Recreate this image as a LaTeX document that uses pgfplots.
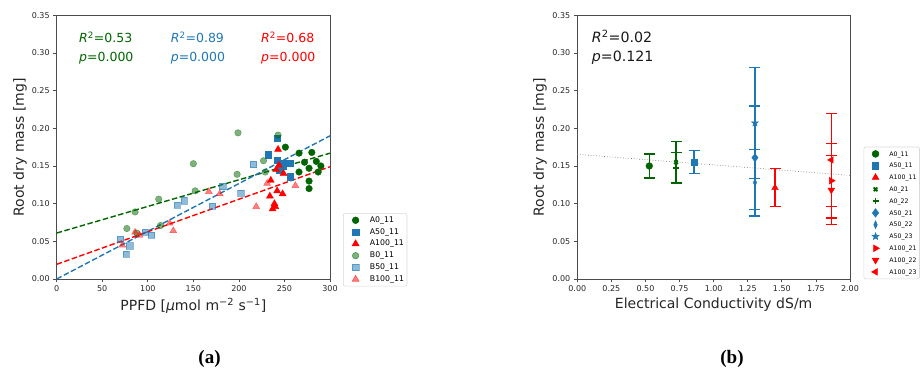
\documentclass[border=0pt]{standalone}
\usepackage{fontspec}
\setmainfont{DejaVu Sans}
\newfontfamily\capserif{Liberation Serif}
\usepackage{pgfplots}
\pgfplotsset{compat=1.18}
\usetikzlibrary{plotmarks}
\definecolor{dgreen}{HTML}{006400}
\definecolor{tblue}{HTML}{1F77B4}
\definecolor{mred}{HTML}{FF0000}

\pgfdeclareplotmark{fstar}{%
  \pgfpathmoveto{\pgfpointpolar{90}{\pgfplotmarksize}}%
  \pgfpathlineto{\pgfpointpolar{126}{0.42\pgfplotmarksize}}%
  \pgfpathlineto{\pgfpointpolar{162}{\pgfplotmarksize}}%
  \pgfpathlineto{\pgfpointpolar{198}{0.42\pgfplotmarksize}}%
  \pgfpathlineto{\pgfpointpolar{234}{\pgfplotmarksize}}%
  \pgfpathlineto{\pgfpointpolar{270}{0.42\pgfplotmarksize}}%
  \pgfpathlineto{\pgfpointpolar{306}{\pgfplotmarksize}}%
  \pgfpathlineto{\pgfpointpolar{342}{0.42\pgfplotmarksize}}%
  \pgfpathlineto{\pgfpointpolar{18}{\pgfplotmarksize}}%
  \pgfpathlineto{\pgfpointpolar{54}{0.42\pgfplotmarksize}}%
  \pgfpathclose
  \pgfusepathqfillstroke
}
\pgfdeclareplotmark{triright}{\pgftransformrotate{-90}\pgfuseplotmark{triangle*}}
\pgfdeclareplotmark{tridown}{\pgftransformrotate{180}\pgfuseplotmark{triangle*}}
\pgfdeclareplotmark{trileft}{\pgftransformrotate{90}\pgfuseplotmark{triangle*}}
\pgfdeclareplotmark{thindiamond}{\pgftransformxscale{0.6}\pgfuseplotmark{diamond*}}
\pgfdeclareplotmark{thickx}{\pgfsetlinewidth{1.8pt}\pgfuseplotmark{x}}
\pgfdeclareplotmark{thickplus}{\pgfsetlinewidth{1.9pt}\pgfuseplotmark{+}}

% error bar of one series: colour, x, x-cap left, x-cap right, lower, upper
\newcommand{\ebar}[6]{%
  \addplot[forget plot, color=#1, line width=1.2pt] coordinates {(#2,#5) (#2,#6)};
  \addplot[forget plot, color=#1, line width=1.2pt] coordinates {(#3,#5) (#4,#5)};
  \addplot[forget plot, color=#1, line width=1.2pt] coordinates {(#3,#6) (#4,#6)};
}

\pgfplotsset{
  base/.style={
    scale only axis,
    anchor=south west,
    height=263.7pt,
    ymin=0, ymax=0.35,
    ytick={0,0.05,0.10,0.15,0.20,0.25,0.30,0.35},
    yticklabel style={/pgf/number format/fixed,/pgf/number format/fixed zerofill,/pgf/number format/precision=2},
    /pgf/number format/assume math mode=true,
    tick label style={font=\fontsize{8}{9}\selectfont, text=black!85},
    tick align=outside,
    major tick length=3.5pt,
    xtick pos=bottom, ytick pos=left,
    axis line style={black!70, line width=0.8pt},
    every tick/.style={black!70, line width=0.8pt},
    label style={font=\fontsize{14}{16}\selectfont, text=black!85},
    ylabel={Root dry mass [mg]},
    clip=false,
  },
  leg/.style={
    legend style={
      draw=black!15, line width=0.6pt, rounded corners=2pt,
      inner xsep=3pt, inner ysep=1pt,
      row sep=0pt, column sep=0pt,
      nodes={inner sep=0pt, text height=5.6pt, text depth=1.4pt, minimum height=11.8pt},
    },
    legend cell align=left,
  },
}

\begin{document}
\begin{tikzpicture}[x=1pt,y=1pt]
% ---------------- panel (a)
\begin{axis}[base, leg,
  at={(56.7pt,92pt)}, width=273.3pt,
  xmin=0, xmax=300, xtick={0,50,100,150,200,250,300},
  xlabel={PPFD [{\itshape μ}mol m\textsuperscript{−2} s\textsuperscript{−1}]},
  xlabel style={at={(axis description cs:0.5,-0.120)}, anchor=base},
  ylabel style={at={(axis description cs:-0.134,0.5)}, anchor=center},
  legend style={at={(1.0476,0.250)}, anchor=north west, font=\fontsize{7.8}{9}\selectfont},
  legend image code/.code={\path (-9pt,0pt) (14pt,0pt); \draw[#1] plot coordinates {(0pt,0pt)};},
]
\addplot[only marks, mark=*, mark size=3.3pt, dgreen] coordinates {
(251,0.175)(266,0.167)(280,0.168)(272,0.155)(285,0.156)(290,0.150)(277,0.147)(287,0.142)(266,0.142)(277,0.130)(277,0.120)(256,0.153)};
\addlegendentry{A0\_11}
\addplot[only marks, mark=square*, mark size=3.2pt, tblue] coordinates {
(232,0.165)(242,0.187)(242,0.158)(250,0.154)(256,0.154)(245,0.145)(256,0.136)(248,0.150)};
\addlegendentry{A50\_11}
\addplot[only marks, mark=triangle*, mark size=4pt, mred] coordinates {
(243,0.172)(244,0.151)(241,0.145)(249,0.140)(235,0.131)(242,0.117)(248,0.113)(234,0.110)(239,0.100)(237,0.093)(240,0.096)};
\addlegendentry{A100\_11}
\addplot[only marks, mark=*, mark size=3.3pt, dgreen, opacity=0.5] coordinates {
(77,0.067)(86,0.089)(88,0.061)(112,0.106)(114,0.071)(152,0.117)(150,0.153)(198,0.139)(199,0.194)(227,0.157)(229,0.142)(243,0.191)};
\addlegendentry{B0\_11}
\addplot[only marks, mark=square*, mark size=3.2pt, tblue, opacity=0.5] coordinates {
(70,0.053)(76,0.033)(80,0.044)(97,0.062)(104,0.058)(132,0.098)(140,0.104)(171,0.097)(182,0.123)(202,0.114)(216,0.152)};
\addlegendentry{B50\_11}
\addplot[only marks, mark=triangle*, mark size=4pt, mred, opacity=0.5] coordinates {
(72,0.045)(86,0.062)(91,0.058)(124,0.074)(128,0.064)(167,0.116)(179,0.113)(219,0.096)(231,0.127)(262,0.124)};
\addlegendentry{B100\_11}
\addplot[dgreen, line width=1.4pt, dash pattern=on 5.5pt off 2.5pt, forget plot] coordinates {(0,0.061)(300,0.167)};
\addplot[tblue, line width=1.4pt, dash pattern=on 5.5pt off 2.5pt, forget plot] coordinates {(0,0.0)(300,0.190)};
\addplot[mred, line width=1.4pt, dash pattern=on 5.5pt off 2.5pt, forget plot] coordinates {(0,0.0195)(300,0.149)};
\node[anchor=base west, font=\fontsize{12.5}{14}\selectfont, text=dgreen, inner sep=0pt] at (axis cs:24.5,0.314) {{\itshape R}\textsuperscript{2}=0.53};
\node[anchor=base west, font=\fontsize{12.5}{14}\selectfont, text=dgreen, inner sep=0pt] at (axis cs:24.5,0.289) {{\itshape p}=0.000};
\node[anchor=base west, font=\fontsize{12.5}{14}\selectfont, text=tblue, inner sep=0pt] at (axis cs:125.1,0.314) {{\itshape R}\textsuperscript{2}=0.89};
\node[anchor=base west, font=\fontsize{12.5}{14}\selectfont, text=tblue, inner sep=0pt] at (axis cs:125.1,0.289) {{\itshape p}=0.000};
\node[anchor=base west, font=\fontsize{12.5}{14}\selectfont, text=mred, inner sep=0pt] at (axis cs:224.3,0.314) {{\itshape R}\textsuperscript{2}=0.68};
\node[anchor=base west, font=\fontsize{12.5}{14}\selectfont, text=mred, inner sep=0pt] at (axis cs:224.3,0.289) {{\itshape p}=0.000};
\end{axis}

% ---------------- panel (b)
\begin{axis}[base, leg,
  at={(577.3pt,92pt)}, width=272.7pt,
  xmin=0, xmax=2, xtick={0,0.25,0.5,0.75,1,1.25,1.5,1.75,2},
  xticklabel style={/pgf/number format/fixed,/pgf/number format/fixed zerofill,/pgf/number format/precision=2},
  xlabel={Electrical Conductivity dS/m},
  xlabel style={at={(axis description cs:0.5,-0.111)}, anchor=base},
  ylabel style={at={(axis description cs:-0.137,0.5)}, anchor=center},
  legend style={at={(1.0496,0.5017)}, anchor=north west, font=\fontsize{6.2}{7}\selectfont},
  legend image code/.code={\path (-8.4pt,0pt) (13.6pt,0pt); \draw[#1] plot coordinates {(0pt,0pt)};},
]
\addplot[gray, dotted, line width=0.7pt, forget plot] coordinates {(0,0.1654)(2,0.1375)};
% A0_11
\ebar{dgreen}{0.528}{0.4877}{0.5683}{0.134}{0.166}
\addplot[only marks, mark=*, mark size=3.4pt, color=dgreen] coordinates {(0.528,0.150)};
\addlegendentry{A0\_11}
% A50_11
\ebar{tblue}{0.856}{0.8157}{0.8963}{0.1403}{0.1707}
\addplot[only marks, mark=square*, mark size=3.1pt, color=tblue] coordinates {(0.856,0.1555)};
\addlegendentry{A50\_11}
% A100_11
\ebar{mred}{1.45}{1.4097}{1.4903}{0.0958}{0.1462}
\addplot[only marks, mark=triangle*, mark size=3.8pt, color=mred] coordinates {(1.45,0.121)};
\addlegendentry{A100\_11}
% A0_21
\ebar{dgreen}{0.724}{0.6837}{0.7643}{0.1275}{0.1825}
\addplot[only marks, mark=thickx, mark size=2.6pt, color=dgreen] coordinates {(0.724,0.155)};
\addlegendentry{A0\_21}
% A0_22
\ebar{dgreen}{0.724}{0.6837}{0.7643}{0.1265}{0.1675}
\addplot[only marks, mark=thickplus, mark size=3pt, color=dgreen] coordinates {(0.724,0.147)};
\addlegendentry{A0\_22}
% A50_21
\ebar{tblue}{1.303}{1.2627}{1.3433}{0.0925}{0.2295}
\addplot[only marks, mark=diamond*, mark size=4.2pt, color=tblue] coordinates {(1.303,0.161)};
\addlegendentry{A50\_21}
% A50_22
\ebar{tblue}{1.303}{1.2627}{1.3433}{0.0837}{0.1723}
\addplot[only marks, mark=thindiamond, mark size=3.8pt, color=tblue] coordinates {(1.303,0.128)};
\addlegendentry{A50\_22}
% A50_23
\ebar{tblue}{1.303}{1.2627}{1.3433}{0.133}{0.281}
\addplot[only marks, mark=fstar, mark size=3.6pt, color=tblue] coordinates {(1.303,0.207)};
\addlegendentry{A50\_23}
% A100_21
\ebar{mred}{1.863}{1.8227}{1.9033}{0.081}{0.180}
\addplot[only marks, mark=triright, mark size=3.8pt, color=mred] coordinates {(1.863,0.1305)};
\addlegendentry{A100\_21}
% A100_22
\ebar{mred}{1.863}{1.8227}{1.9033}{0.0725}{0.1635}
\addplot[only marks, mark=tridown, mark size=3.8pt, color=mred] coordinates {(1.863,0.118)};
\addlegendentry{A100\_22}
% A100_23
\ebar{mred}{1.863}{1.8227}{1.9033}{0.096}{0.220}
\addplot[only marks, mark=trileft, mark size=3.8pt, color=mred] coordinates {(1.863,0.158)};
\addlegendentry{A100\_23}
\node[anchor=base west, font=\fontsize{14.2}{16}\selectfont, text=black!90, inner sep=0pt] at (axis cs:0.106,0.3134) {{\itshape R}\textsuperscript{2}=0.02};
\node[anchor=base west, font=\fontsize{14.2}{16}\selectfont, text=black!90, inner sep=0pt] at (axis cs:0.106,0.289) {{\itshape p}=0.121};
\end{axis}

\node[font=\capserif\bfseries\fontsize{19}{21}\selectfont, inner sep=0pt] at (209.5pt,12pt) {(a)};
\node[font=\capserif\bfseries\fontsize{19}{21}\selectfont, inner sep=0pt] at (732pt,12pt) {(b)};

\pgfresetboundingbox
\path[use as bounding box] (0pt,0pt) rectangle (920pt,371pt);
\end{tikzpicture}
\end{document}
